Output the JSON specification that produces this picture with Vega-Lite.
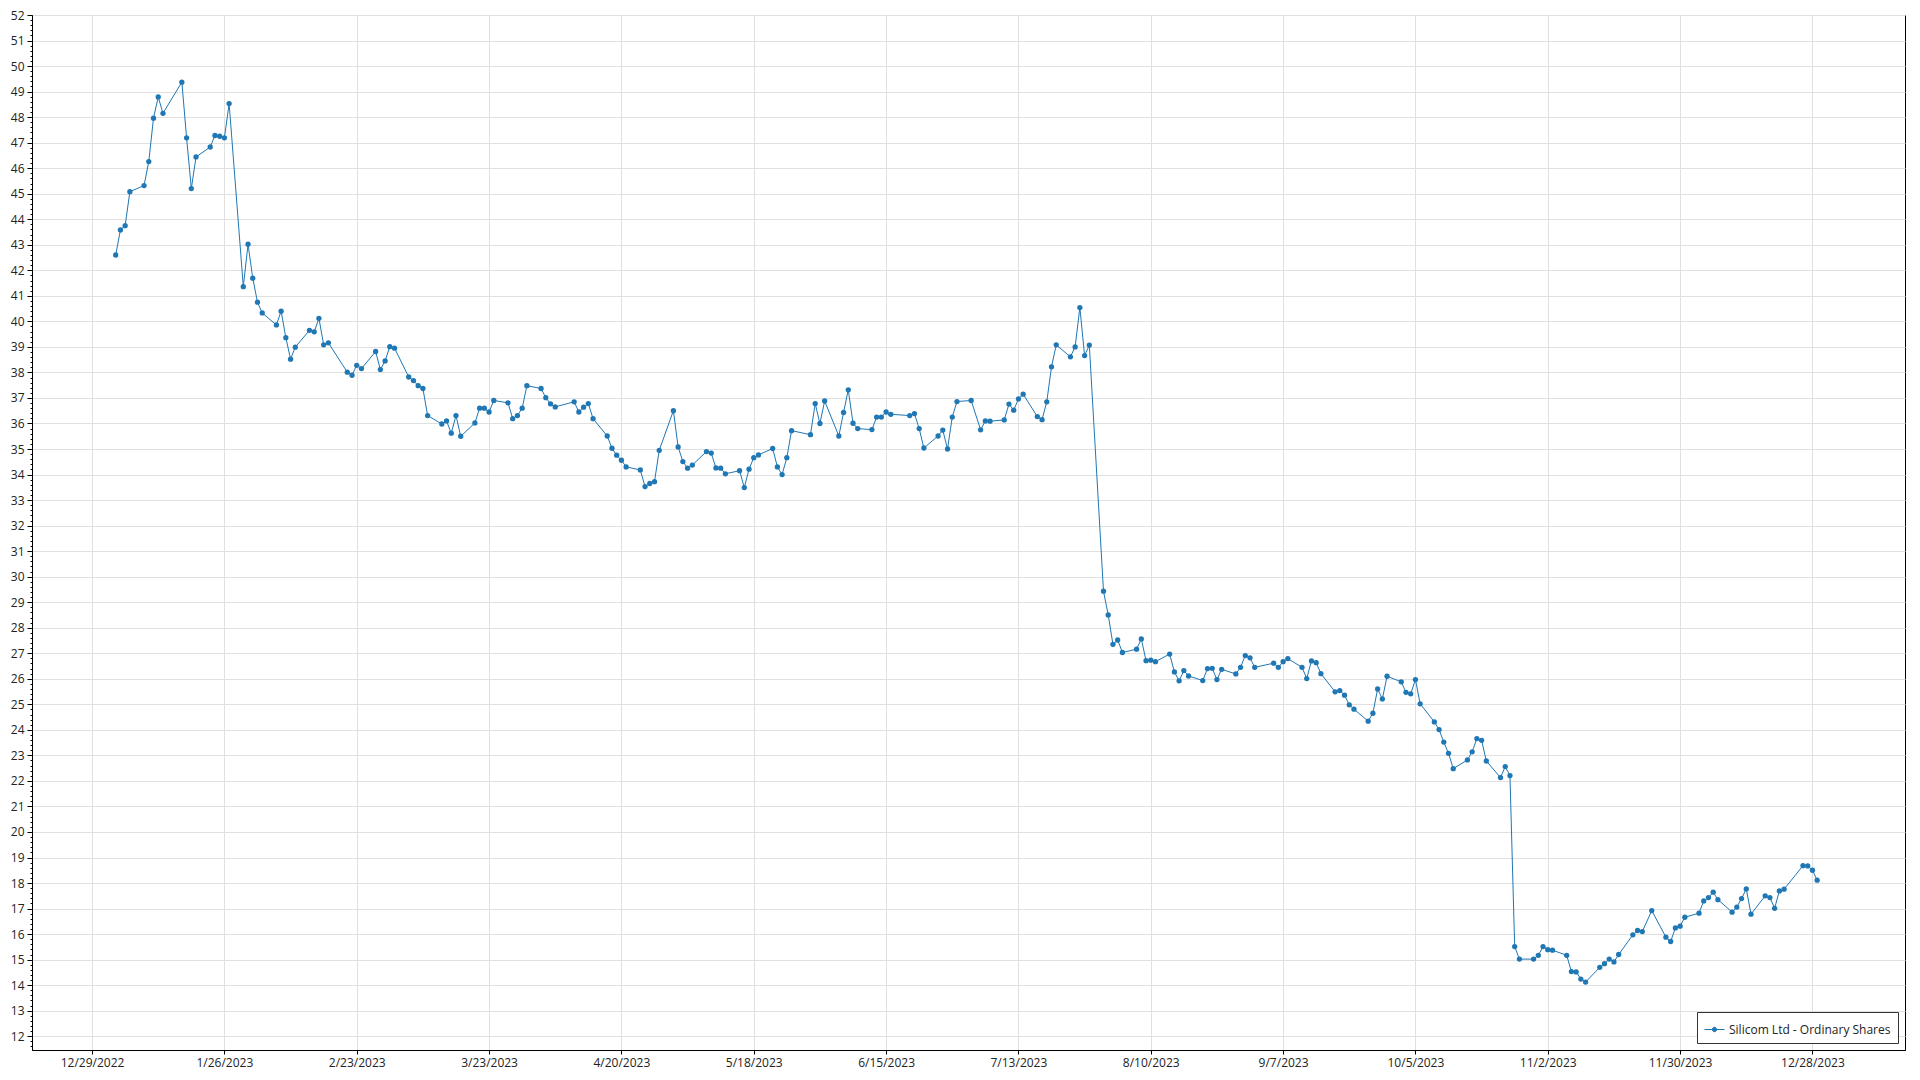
{
  "$schema": "https://vega.github.io/schema/vega-lite/v6.json",
  "width": 1873,
  "height": 1035,
  "autosize": {"type": "none"},
  "padding": {"left": 32, "top": 15, "right": 15, "bottom": 30},
  "background": "white",
  "config": {
    "font": "Open Sans",
    "view": {"stroke": "#000", "strokeWidth": 1},
    "axis": {
      "domainColor": "#000",
      "tickColor": "#000",
      "labelColor": "#222",
      "labelFont": "Open Sans",
      "labelFontSize": 12,
      "gridColor": "#e0e0e0",
      "gridWidth": 1,
      "title": null
    }
  },
  "data": {
    "values": [
      {"date": "2023-01-03", "price": 42.6},
      {"date": "2023-01-04", "price": 43.58},
      {"date": "2023-01-05", "price": 43.75},
      {"date": "2023-01-06", "price": 45.08},
      {"date": "2023-01-09", "price": 45.32},
      {"date": "2023-01-10", "price": 46.26},
      {"date": "2023-01-11", "price": 47.96},
      {"date": "2023-01-12", "price": 48.79},
      {"date": "2023-01-13", "price": 48.15},
      {"date": "2023-01-17", "price": 49.37},
      {"date": "2023-01-18", "price": 47.19},
      {"date": "2023-01-19", "price": 45.2},
      {"date": "2023-01-20", "price": 46.44},
      {"date": "2023-01-23", "price": 46.83},
      {"date": "2023-01-24", "price": 47.28},
      {"date": "2023-01-25", "price": 47.25},
      {"date": "2023-01-26", "price": 47.19},
      {"date": "2023-01-27", "price": 48.53},
      {"date": "2023-01-30", "price": 41.36},
      {"date": "2023-01-31", "price": 43.02},
      {"date": "2023-02-01", "price": 41.69},
      {"date": "2023-02-02", "price": 40.75},
      {"date": "2023-02-03", "price": 40.33},
      {"date": "2023-02-06", "price": 39.86},
      {"date": "2023-02-07", "price": 40.4},
      {"date": "2023-02-08", "price": 39.36},
      {"date": "2023-02-09", "price": 38.52},
      {"date": "2023-02-10", "price": 38.99},
      {"date": "2023-02-13", "price": 39.65},
      {"date": "2023-02-14", "price": 39.59},
      {"date": "2023-02-15", "price": 40.12},
      {"date": "2023-02-16", "price": 39.08},
      {"date": "2023-02-17", "price": 39.16},
      {"date": "2023-02-21", "price": 38.01},
      {"date": "2023-02-22", "price": 37.89},
      {"date": "2023-02-23", "price": 38.28},
      {"date": "2023-02-24", "price": 38.15},
      {"date": "2023-02-27", "price": 38.82},
      {"date": "2023-02-28", "price": 38.11},
      {"date": "2023-03-01", "price": 38.45},
      {"date": "2023-03-02", "price": 39.01},
      {"date": "2023-03-03", "price": 38.95},
      {"date": "2023-03-06", "price": 37.82},
      {"date": "2023-03-07", "price": 37.68},
      {"date": "2023-03-08", "price": 37.48},
      {"date": "2023-03-09", "price": 37.37},
      {"date": "2023-03-10", "price": 36.31},
      {"date": "2023-03-13", "price": 35.98},
      {"date": "2023-03-14", "price": 36.1},
      {"date": "2023-03-15", "price": 35.62},
      {"date": "2023-03-16", "price": 36.31},
      {"date": "2023-03-17", "price": 35.5},
      {"date": "2023-03-20", "price": 36.02},
      {"date": "2023-03-21", "price": 36.6},
      {"date": "2023-03-22", "price": 36.6},
      {"date": "2023-03-23", "price": 36.45},
      {"date": "2023-03-24", "price": 36.9},
      {"date": "2023-03-27", "price": 36.81},
      {"date": "2023-03-28", "price": 36.19},
      {"date": "2023-03-29", "price": 36.31},
      {"date": "2023-03-30", "price": 36.6},
      {"date": "2023-03-31", "price": 37.48},
      {"date": "2023-04-03", "price": 37.37},
      {"date": "2023-04-04", "price": 37.01},
      {"date": "2023-04-05", "price": 36.77},
      {"date": "2023-04-06", "price": 36.65},
      {"date": "2023-04-10", "price": 36.85},
      {"date": "2023-04-11", "price": 36.45},
      {"date": "2023-04-12", "price": 36.64},
      {"date": "2023-04-13", "price": 36.78},
      {"date": "2023-04-14", "price": 36.19},
      {"date": "2023-04-17", "price": 35.51},
      {"date": "2023-04-18", "price": 35.03},
      {"date": "2023-04-19", "price": 34.76},
      {"date": "2023-04-20", "price": 34.56},
      {"date": "2023-04-21", "price": 34.3},
      {"date": "2023-04-24", "price": 34.18},
      {"date": "2023-04-25", "price": 33.53},
      {"date": "2023-04-26", "price": 33.65},
      {"date": "2023-04-27", "price": 33.72},
      {"date": "2023-04-28", "price": 34.95},
      {"date": "2023-05-01", "price": 36.5},
      {"date": "2023-05-02", "price": 35.08},
      {"date": "2023-05-03", "price": 34.51},
      {"date": "2023-05-04", "price": 34.25},
      {"date": "2023-05-05", "price": 34.37},
      {"date": "2023-05-08", "price": 34.9},
      {"date": "2023-05-09", "price": 34.84},
      {"date": "2023-05-10", "price": 34.26},
      {"date": "2023-05-11", "price": 34.25},
      {"date": "2023-05-12", "price": 34.03},
      {"date": "2023-05-15", "price": 34.15},
      {"date": "2023-05-16", "price": 33.49},
      {"date": "2023-05-17", "price": 34.21},
      {"date": "2023-05-18", "price": 34.66},
      {"date": "2023-05-19", "price": 34.77},
      {"date": "2023-05-22", "price": 35.02},
      {"date": "2023-05-23", "price": 34.3},
      {"date": "2023-05-24", "price": 34.0},
      {"date": "2023-05-25", "price": 34.66},
      {"date": "2023-05-26", "price": 35.72},
      {"date": "2023-05-30", "price": 35.56},
      {"date": "2023-05-31", "price": 36.78},
      {"date": "2023-06-01", "price": 36.0},
      {"date": "2023-06-02", "price": 36.88},
      {"date": "2023-06-05", "price": 35.51},
      {"date": "2023-06-06", "price": 36.43},
      {"date": "2023-06-07", "price": 37.32},
      {"date": "2023-06-08", "price": 36.01},
      {"date": "2023-06-09", "price": 35.8},
      {"date": "2023-06-12", "price": 35.76},
      {"date": "2023-06-13", "price": 36.25},
      {"date": "2023-06-14", "price": 36.25},
      {"date": "2023-06-15", "price": 36.45},
      {"date": "2023-06-16", "price": 36.36},
      {"date": "2023-06-20", "price": 36.31},
      {"date": "2023-06-21", "price": 36.39},
      {"date": "2023-06-22", "price": 35.8},
      {"date": "2023-06-23", "price": 35.04},
      {"date": "2023-06-26", "price": 35.51},
      {"date": "2023-06-27", "price": 35.74},
      {"date": "2023-06-28", "price": 35.0},
      {"date": "2023-06-29", "price": 36.25},
      {"date": "2023-06-30", "price": 36.86},
      {"date": "2023-07-03", "price": 36.9},
      {"date": "2023-07-05", "price": 35.75},
      {"date": "2023-07-06", "price": 36.1},
      {"date": "2023-07-07", "price": 36.09},
      {"date": "2023-07-10", "price": 36.14},
      {"date": "2023-07-11", "price": 36.76},
      {"date": "2023-07-12", "price": 36.52},
      {"date": "2023-07-13", "price": 36.96},
      {"date": "2023-07-14", "price": 37.15},
      {"date": "2023-07-17", "price": 36.27},
      {"date": "2023-07-18", "price": 36.15},
      {"date": "2023-07-19", "price": 36.85},
      {"date": "2023-07-20", "price": 38.22},
      {"date": "2023-07-21", "price": 39.08},
      {"date": "2023-07-24", "price": 38.61},
      {"date": "2023-07-25", "price": 39.0},
      {"date": "2023-07-26", "price": 40.54},
      {"date": "2023-07-27", "price": 38.66},
      {"date": "2023-07-28", "price": 39.07},
      {"date": "2023-07-31", "price": 29.43},
      {"date": "2023-08-01", "price": 28.5},
      {"date": "2023-08-02", "price": 27.35},
      {"date": "2023-08-03", "price": 27.52},
      {"date": "2023-08-04", "price": 27.03},
      {"date": "2023-08-07", "price": 27.16},
      {"date": "2023-08-08", "price": 27.56},
      {"date": "2023-08-09", "price": 26.71},
      {"date": "2023-08-10", "price": 26.73},
      {"date": "2023-08-11", "price": 26.67},
      {"date": "2023-08-14", "price": 26.97},
      {"date": "2023-08-15", "price": 26.27},
      {"date": "2023-08-16", "price": 25.92},
      {"date": "2023-08-17", "price": 26.32},
      {"date": "2023-08-18", "price": 26.11},
      {"date": "2023-08-21", "price": 25.93},
      {"date": "2023-08-22", "price": 26.4},
      {"date": "2023-08-23", "price": 26.41},
      {"date": "2023-08-24", "price": 25.97},
      {"date": "2023-08-25", "price": 26.37},
      {"date": "2023-08-28", "price": 26.19},
      {"date": "2023-08-29", "price": 26.45},
      {"date": "2023-08-30", "price": 26.91},
      {"date": "2023-08-31", "price": 26.82},
      {"date": "2023-09-01", "price": 26.45},
      {"date": "2023-09-05", "price": 26.61},
      {"date": "2023-09-06", "price": 26.45},
      {"date": "2023-09-07", "price": 26.67},
      {"date": "2023-09-08", "price": 26.79},
      {"date": "2023-09-11", "price": 26.45},
      {"date": "2023-09-12", "price": 26.01},
      {"date": "2023-09-13", "price": 26.7},
      {"date": "2023-09-14", "price": 26.63},
      {"date": "2023-09-15", "price": 26.2},
      {"date": "2023-09-18", "price": 25.49},
      {"date": "2023-09-19", "price": 25.54},
      {"date": "2023-09-20", "price": 25.36},
      {"date": "2023-09-21", "price": 24.98},
      {"date": "2023-09-22", "price": 24.81},
      {"date": "2023-09-25", "price": 24.34},
      {"date": "2023-09-26", "price": 24.65},
      {"date": "2023-09-27", "price": 25.6},
      {"date": "2023-09-28", "price": 25.21},
      {"date": "2023-09-29", "price": 26.1},
      {"date": "2023-10-02", "price": 25.88},
      {"date": "2023-10-03", "price": 25.47},
      {"date": "2023-10-04", "price": 25.41},
      {"date": "2023-10-05", "price": 25.97},
      {"date": "2023-10-06", "price": 25.02},
      {"date": "2023-10-09", "price": 24.31},
      {"date": "2023-10-10", "price": 24.01},
      {"date": "2023-10-11", "price": 23.52},
      {"date": "2023-10-12", "price": 23.08},
      {"date": "2023-10-13", "price": 22.48},
      {"date": "2023-10-16", "price": 22.82},
      {"date": "2023-10-17", "price": 23.14},
      {"date": "2023-10-18", "price": 23.66},
      {"date": "2023-10-19", "price": 23.59},
      {"date": "2023-10-20", "price": 22.78},
      {"date": "2023-10-23", "price": 22.13},
      {"date": "2023-10-24", "price": 22.56},
      {"date": "2023-10-25", "price": 22.21},
      {"date": "2023-10-26", "price": 15.51},
      {"date": "2023-10-27", "price": 15.02},
      {"date": "2023-10-30", "price": 15.02},
      {"date": "2023-10-31", "price": 15.17},
      {"date": "2023-11-01", "price": 15.51},
      {"date": "2023-11-02", "price": 15.39},
      {"date": "2023-11-03", "price": 15.37},
      {"date": "2023-11-06", "price": 15.17},
      {"date": "2023-11-07", "price": 14.53},
      {"date": "2023-11-08", "price": 14.52},
      {"date": "2023-11-09", "price": 14.24},
      {"date": "2023-11-10", "price": 14.12},
      {"date": "2023-11-13", "price": 14.7},
      {"date": "2023-11-14", "price": 14.84},
      {"date": "2023-11-15", "price": 15.02},
      {"date": "2023-11-16", "price": 14.91},
      {"date": "2023-11-17", "price": 15.2},
      {"date": "2023-11-20", "price": 15.97},
      {"date": "2023-11-21", "price": 16.14},
      {"date": "2023-11-22", "price": 16.1},
      {"date": "2023-11-24", "price": 16.92},
      {"date": "2023-11-27", "price": 15.88},
      {"date": "2023-11-28", "price": 15.71},
      {"date": "2023-11-29", "price": 16.24},
      {"date": "2023-11-30", "price": 16.31},
      {"date": "2023-12-01", "price": 16.66},
      {"date": "2023-12-04", "price": 16.82},
      {"date": "2023-12-05", "price": 17.3},
      {"date": "2023-12-06", "price": 17.43},
      {"date": "2023-12-07", "price": 17.64},
      {"date": "2023-12-08", "price": 17.35},
      {"date": "2023-12-11", "price": 16.86},
      {"date": "2023-12-12", "price": 17.06},
      {"date": "2023-12-13", "price": 17.39},
      {"date": "2023-12-14", "price": 17.77},
      {"date": "2023-12-15", "price": 16.78},
      {"date": "2023-12-18", "price": 17.5},
      {"date": "2023-12-19", "price": 17.43},
      {"date": "2023-12-20", "price": 17.01},
      {"date": "2023-12-21", "price": 17.69},
      {"date": "2023-12-22", "price": 17.76},
      {"date": "2023-12-26", "price": 18.68},
      {"date": "2023-12-27", "price": 18.67},
      {"date": "2023-12-28", "price": 18.5},
      {"date": "2023-12-29", "price": 18.11}
    ],
    "format": {"parse": {"date": "utc:'%Y-%m-%d'"}}
  },
  "mark": {
    "type": "line",
    "strokeWidth": 1,
    "point": {"filled": true, "size": 28, "opacity": 1}
  },
  "encoding": {
    "x": {
      "field": "date",
      "type": "temporal",
      "scale": {
        "type": "utc",
        "domain": [
          {"year": 2022, "month": 12, "date": 16, "hours": 7, "utc": true},
          {"year": 2024, "month": 1, "date": 16, "hours": 14, "utc": true}
        ]
      },
      "axis": {
        "values": [
          {"year": 2022, "month": 12, "date": 29, "utc": true},
          {"year": 2023, "month": 1, "date": 26, "utc": true},
          {"year": 2023, "month": 2, "date": 23, "utc": true},
          {"year": 2023, "month": 3, "date": 23, "utc": true},
          {"year": 2023, "month": 4, "date": 20, "utc": true},
          {"year": 2023, "month": 5, "date": 18, "utc": true},
          {"year": 2023, "month": 6, "date": 15, "utc": true},
          {"year": 2023, "month": 7, "date": 13, "utc": true},
          {"year": 2023, "month": 8, "date": 10, "utc": true},
          {"year": 2023, "month": 9, "date": 7, "utc": true},
          {"year": 2023, "month": 10, "date": 5, "utc": true},
          {"year": 2023, "month": 11, "date": 2, "utc": true},
          {"year": 2023, "month": 11, "date": 30, "utc": true},
          {"year": 2023, "month": 12, "date": 28, "utc": true}
        ],
        "labelExpr": "utcFormat(datum.value, '%-m/%-d/%Y')",
        "grid": true,
        "tickSize": 4,
        "labelPadding": 3,
        "labelFlush": false,
        "labelOverlap": false
      }
    },
    "y": {
      "field": "price",
      "type": "quantitative",
      "scale": {"domain": [11.46, 52], "nice": false, "zero": false},
      "axis": {
        "tickCount": 203,
        "labelOverlap": false,
        "labelExpr": "abs(datum.value - round(datum.value)) < 0.01 ? '' + round(datum.value) : ''",
        "tickSize": {"condition": {"test": "abs(datum.value - round(datum.value)) < 0.01", "value": 5}, "value": 2},
        "gridOpacity": {"condition": {"test": "abs(datum.value - round(datum.value)) < 0.01", "value": 1}, "value": 0},
        "labelPadding": 3
      }
    },
    "color": {
      "datum": "Silicom Ltd - Ordinary Shares",
      "type": "nominal",
      "scale": {"range": ["#1f77b4"]},
      "legend": {
        "title": null,
        "orient": "bottom-right",
        "offset": 7,
        "padding": 7,
        "fillColor": "#ffffff",
        "strokeColor": "#333333",
        "cornerRadius": 0,
        "labelFont": "Open Sans",
        "labelFontSize": 12,
        "labelColor": "#222",
        "labelLimit": 400,
        "symbolType": "M-1,0L1,0M-0.22,0A0.22,0.22,0,1,1,0.22,0A0.22,0.22,0,1,1,-0.22,0Z",
        "symbolSize": 400,
        "symbolStrokeWidth": 1,
        "symbolStrokeColor": "#1f77b4",
        "symbolFillColor": "#1f77b4",
        "symbolOpacity": 1
      }
    }
  }
}
